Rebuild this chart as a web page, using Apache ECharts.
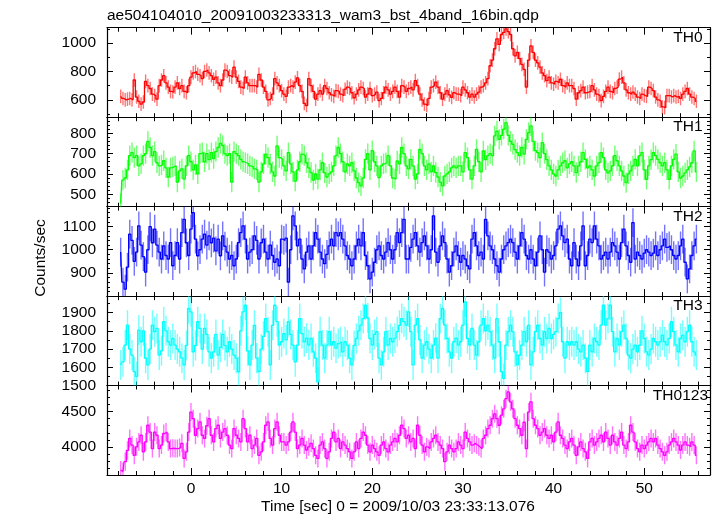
<!DOCTYPE html>
<html><head><meta charset="utf-8">
<script src="https://cdn.jsdelivr.net/npm/echarts@6/dist/echarts.min.js"></script>
<style>html,body{margin:0;padding:0;background:#fff}#c{width:717px;height:516px}</style>
</head><body><div id="c"></div>
<script>
const title = "ae504104010_20091003233313_wam3_bst_4band_16bin.qdp";
const xTitle = "Time [sec] 0 = 2009/10/03 23:33:13.076";
const yTitle = "Counts/sec";
const bandNames = ["TH0", "TH1", "TH2", "TH3", "TH0123"];
const binStart = -7.75, binWidth = 0.25;

const TH0 = [
625,610,600,605,610,600,740,620,590,570,585,730,700,680,640,630,605,700,740,770,720,690,660,655,690,720,680,700,660,650,700,
760,790,800,780,770,750,800,810,790,770,745,760,720,700,740,810,800,770,760,830,760,730,690,680,760,720,700,700,
700,690,780,740, 690,660,600,610, 640,750,720,700, 665,640,625,690, 700,690,725,755, 700,660,575,560, 750,700,660,605, 640,665,640,700, 680,650,635,625, 665,660,640,630, 675,690,680,650, 615,640,670,690, 680,620,640,680, 630,640,655,595, 610,650,690,670, 640,660,690,660, 620,700,690,660,
680,690,670,735, 700,640,600,570, 560,610,690,700, 725,690,650,605, 640,665,635,618, 650,640,640,630, 690,670,650,620, 640,620,640,655, 690,700,720,750, 840,880,960,1030, 990,1060,1075,1100, 1080,1060,960,910, 935,890,850,815, 690,880,980,935, 880,860,830,790, 770,735,760,720, 710,730,720,745, 700,690,720,700, 700,680,605,650, 665,690,650,655, 660,700,670,640, 630,595,625,660, 690,660,650,680, 690,746,760,720, 670,650,640,655, 640,620,610,640, 630,625,690,680, 665,620,600,590, 550,545,630,630, 620,630,620,625, 610,640,660,680, 640,620,610,590
];
const TH1 = [
455,570,580,620,690,705,680,690,640,650,690,700,760,730,690,710,655,640,645,665,630,585,630,635,640,560,615,625,575,640,690,
660,620,645,600,700,705,660,700,670,705,675,710,730,750,740,700,690,700,560,710,700,690,672,660,655,650,640,635,
625,620,560,610, 650,697,680,648, 610,590,738,680, 672,640,615,705, 650,610,565,620, 660,697,690,655, 630,607,570,600, 575,620,655,605, 585,600,610,640, 690,730,700,660, 610,650,640,655, 615,580,557,541, 580,672,700,620, 715,660,640,582, 640,650,655,690, 640,580,574,664, 650,730,700,640,
625,672,640,575, 600,721,700,640, 620,650,610,640, 607,585,560,541, 590,600,610,630, 640,630,640,640, 610,705,680,620, 575,640,721,660, 610,713,670,690, 700,690,787,811, 770,790,820,852, 790,760,746,720, 705,690,730,697, 770,803,836,760, 715,705,680,754, 700,670,640,620, 600,590,620,640, 655,665,630,650, 660,640,607,640, 660,705,672,630, 640,620,590,640, 655,705,680,620, 605,615,640,690, 665,640,615,590, 557,600,615,640, 672,640,690,705, 620,574,640,670, 705,690,672,655, 640,655,620,574, 640,672,697,610, 580,590,605,620, 635,655,713,610
];
const TH2 = [
990,860,830,925,1067,1040,950,990,1103,1020,970,903,1000,1100,1030,1089,1020,990,960,1017,975,960,1031,931,975,1031,960,1074,1131,1030,975,
1089,1160,1046,974,1000,1046,1067,1020,1060,1030,1050,995,1046,974,1060,1015,990,960,975,931,960,1031,1074,1103,1046,960,990,1000,
1060,1040,960,1030, 1046,990,960,1020, 975,946,960,931, 1046,1040,1050,860, 1000,1146,1103,1017, 1046,960,917,990, 1017,960,1017,1074, 1046,990,960,940, 980,1017,1046,1017, 1074,1060,1074,1046, 1017,975,960,931, 960,1017,1046,1017, 1074,975,931,874, 903,946,1000,1017, 975,960,990,1031, 1000,960,1000,1074, 1031,1074,1131,960,
960,1010,1046,1074, 1017,990,1031,1060, 1017,960,1000,1146, 990,946,1017,1060, 1031,960,903,931, 990,1017,975,946, 975,960,931,917, 1046,1074,1017,975, 990,960,1131,1060, 1017,1000,960,931, 903,960,1000,1017, 1031,1046,1031,990, 960,1017,1074,1046, 975,960,1000,960, 931,990,1060,1000, 903,1000,990,960, 975,1017,1089,1103, 1060,1031,1046,960, 931,1031,960,931, 1017,1103,931,975, 1046,1031,1103,1046, 1017,960,975,990, 960,990,1031,1017, 990,960,1031,1089, 1017,975,946,1117, 960,990,975,960, 985,1000,990,975, 985,1017,975,1000, 1017,1046,1010,1017, 1000,975,960,975, 1017,1046,946,874, 917,975,1017,1046
];
const TH3 = [
1613,1630,1722,1831,1700,1667,1576,1550,1804,1740,1800,1650,1613,1700,1831,1795,1813,1667,1690,1850,1800,1740,1722,1758,1722,1700,1685,1650,1613,1720,1922,
1904,1685,1720,1850,1813,1700,1813,1780,1685,1650,1685,1780,1667,1710,1780,1720,1685,1740,1700,1667,1650,1576,1800,1904,1940,1690,1613,1722,
1830,1650,1576,1700, 1770,1867,1795,1613, 1830,1940,1850,1722, 1740,1785,1750,1850, 1780,1722,1630,1722, 1867,1785,1740,1760, 1722,1758,1685,1650, 1520,1795,1722,1650, 1722,1795,1722,1740, 1705,1730,1740,1685, 1740,1722,1650,1613, 1720,1758,1800,1831, 1867,1940,1870,1758, 1722,1780,1795,1650, 1613,1685,1795,1722, 1758,1740,1760,1795, 1830,1867,1850,1831,
1904,1795,1613,1831, 1867,1750,1650,1722, 1740,1700,1650,1722, 1760,1650,1867,1922, 1831,1758,1685,1650, 1740,1760,1722,1740, 1831,1958,1758,1722, 1813,1722,1667,1740, 1831,1867,1800,1831, 1795,1722,1650,1867, 1740,1576,1540,1722, 1795,1831,1795,1685, 1613,1667,1722,1795, 1740,1831,1613,1685, 1795,1831,1758,1722, 1795,1758,1813,1758, 1780,1795,1867,1900, 1740,1650,1740,1722, 1740,1722,1740,1700, 1685,1722,1650,1576, 1722,1685,1758,1740, 1722,1831,1940,1831, 1867,1940,1795,1685, 1758,1722,1795,1831, 1758,1667,1650,1700, 1722,1685,1722,1800, 1758,1685,1667,1700, 1758,1740,1722,1740, 1776,1740,1722,1758, 1850,1795,1722,1685, 1758,1776,1740,1795, 1831,1740,1685,1667
];
const TH0123 = [
3670,3650,3790,3950,4120,4025,3880,4000,4070,4165,3930,4070,4307,4210,3975,4210,4165,3975,4025,4190,4210,4070,3975,3980,3975,3975,3990,4050,3835,3930,4210,
4495,4400,4165,4260,4355,4165,4120,4300,4400,4165,4070,4260,4307,4120,4210,4260,4165,4025,3975,4260,4165,4120,4070,4400,4260,4070,4165,3975,
4025,4120,3880,3930, 4070,4307,4355,4120, 4025,4260,4355,4165, 4070,4070,4025,4070, 4210,4355,4210,3975, 4025,4120,4025,3955, 4000,4050,3975,3880, 3835,4025,4070,3975, 3835,3930,4120,4210, 4070,4120,3975,4070, 4025,3975,3930,3835, 3930,4070,3975,4120, 4210,4165,4025,3930, 4025,3975,3930,3880, 4025,4070,3975,3930, 4025,4070,4120,4070, 4165,4307,4260,4120,
4165,4070,4120,3975, 4307,4165,4025,3930, 4000,3975,4070,4120, 4165,4070,4025,3975, 3790,3930,4025,3975, 3930,3975,4070,4025, 3975,4210,4120,4070, 4025,4050,4025,4000, 3975,4120,4165,4260, 4307,4400,4470,4400, 4307,4450,4540,4685, 4780,4640,4540,4400, 4307,4260,4165,4350, 3975,4495,4640,4400, 4307,4260,4165,4210, 4260,4165,4120,4165, 4070,4210,4355,4165, 4120,4025,3975,4070, 4120,4025,3880,4000, 4070,3975,3930,3835, 4070,4120,4025,4070, 4120,4165,4070,4210, 4120,4025,4165,4070, 4025,4120,4210,4025, 3975,4070,4307,4210, 4070,3975,3930,4025, 3975,4025,4070,4120, 4070,4120,4025,3975, 3930,3880,3930,4025, 4070,4120,4070,4025, 3955,4025,4070,4025, 4000,4070,4025,3880
];
const errors = [48, 50, 62, 82, 128];

const xRange = [-9.26, 57.25];
const xMajorTicks = [0, 10, 20, 30, 40, 50];
const xMinorTicks = [-8,-6,-4,-2,2,4,6,8,12,14,16,18,22,24,26,28,32,34,36,38,42,44,46,48,52,54,56];
const yRanges = [[478, 1108], [439, 879], [800, 1186], [1500, 1990], [3600, 4872]];
const yMajorTicks = [[600, 800, 1000], [500, 600, 700, 800], [900, 1000, 1100], [1500, 1600, 1700, 1800, 1900], [4000, 4500]];
const yMinorTicks = [
  [500, 700, 900, 1100],
  [440,460,480,520,540,560,580,620,640,660,680,720,740,760,780,820,840,860],
  [820,840,860,880,920,940,960,980,1020,1040,1060,1080,1120,1140,1160,1180],
  [1550,1650,1750,1850,1950],
  [3600,3700,3800,3900,4100,4200,4300,4400,4600,4700,4800]
];

const FONT = "'Liberation Sans', Arial, Helvetica, sans-serif";
const FS = 15.5;
const colors = ['#ff0000', '#00ff00', '#0000ff', '#00ffff', '#ff00ff'];
const gridLeft = 107, gridWidth = 603;
const tops = [27.7, 117.2, 206.6, 296.1, 385.5];
const H = 89.5;
const bands = [TH0, TH1, TH2, TH3, TH0123];

const grids = [], xAxes = [], yAxes = [], seriesList = [], graphics = [];

bands.forEach((vals, i) => {
  grids.push({ left: gridLeft, width: gridWidth, top: tops[i], height: H, show: false });
  const last = i === bands.length - 1;
  const mkX = (pos, ticks, len, line, label) => ({
    type: 'value', gridIndex: i, position: pos, min: xRange[0], max: xRange[1],
    axisLine: { show: line, onZero: false, lineStyle: { color: '#000', width: 1.2 } },
    axisTick: { show: true, inside: true, length: len, customValues: ticks, lineStyle: { color: '#000', width: 1 } },
    axisLabel: { show: label, customValues: ticks, margin: 6, fontSize: FS, color: '#000', fontFamily: FONT, formatter: v => String(v) },
    splitLine: { show: false }
  });
  const xi = xAxes.length;
  xAxes.push(mkX('bottom', xMajorTicks, 7, true, last));
  xAxes.push(mkX('bottom', xMinorTicks, 4, false, false));
  xAxes.push(mkX('top', xMajorTicks, 7, true, false));
  xAxes.push(mkX('top', xMinorTicks, 4, false, false));
  const mkY = (pos, ticks, len, line, label) => ({
    type: 'value', gridIndex: i, position: pos, min: yRanges[i][0], max: yRanges[i][1],
    axisLine: { show: line, onZero: false, lineStyle: { color: '#000', width: 1.2 } },
    axisTick: { show: true, inside: true, length: len, customValues: ticks, lineStyle: { color: '#000', width: 1 } },
    axisLabel: { show: label, customValues: ticks, margin: 11, fontSize: FS, color: '#000', fontFamily: FONT, formatter: v => String(v) },
    splitLine: { show: false }
  });
  const yi = yAxes.length;
  yAxes.push(mkY('left', yMajorTicks[i], 6, true, true));
  yAxes.push(mkY('left', yMinorTicks[i], 3, false, false));
  yAxes.push(mkY('right', yMajorTicks[i], 6, true, false));
  yAxes.push(mkY('right', yMinorTicks[i], 3, false, false));

  const data = vals.map((v, k) => [binStart + k * binWidth, v]);
  const col = colors[i], err = errors[i];
  // error bars (lighter)
  seriesList.push({
    type: 'custom', xAxisIndex: xi, yAxisIndex: yi, clip: true, silent: true, z: 2,
    data: data,
    renderItem: (params, api) => {
      const t = api.value(0), v = api.value(1);
      const c = api.coord([t, v]);
      const lo = api.coord([t, v - err]);
      const hi = api.coord([t, v + err]);
      return { type: 'line', shape: { x1: c[0], y1: lo[1], x2: c[0], y2: hi[1] }, style: { stroke: col, lineWidth: 1.4, opacity: 0.55 } };
    }
  });
  // histogram step line
  seriesList.push({
    type: 'line', xAxisIndex: xi, yAxisIndex: yi, step: 'middle', showSymbol: false, symbol: 'none', silent: true, z: 3,
    lineStyle: { color: col, width: 1.3 }, data: data
  });
  graphics.push({
    type: 'text', x: i === 4 ? 708 : 702.5, y: tops[i] + 10,
    style: { text: bandNames[i], fill: '#000', font: FS + 'px ' + FONT, align: 'right', verticalAlign: 'middle' }
  });
});

graphics.push({ type: 'text', x: 107, y: 16, style: { text: title, fill: '#000', font: FS + 'px ' + FONT, align: 'left', verticalAlign: 'middle' } });
graphics.push({ type: 'text', x: 41, y: 258, rotation: Math.PI / 2, style: { text: yTitle, fill: '#000', font: FS + 'px ' + FONT, align: 'center', verticalAlign: 'middle' } });
graphics.push({ type: 'text', x: 398, y: 507, style: { text: xTitle, fill: '#000', font: FS + 'px ' + FONT, align: 'center', verticalAlign: 'middle' } });

const chart = echarts.init(document.getElementById('c'), null, { renderer: 'canvas' });
chart.setOption({
  animation: false,
  backgroundColor: '#fff',
  grid: grids,
  xAxis: xAxes,
  yAxis: yAxes,
  series: seriesList,
  graphic: graphics
});
</script>
</body></html>
